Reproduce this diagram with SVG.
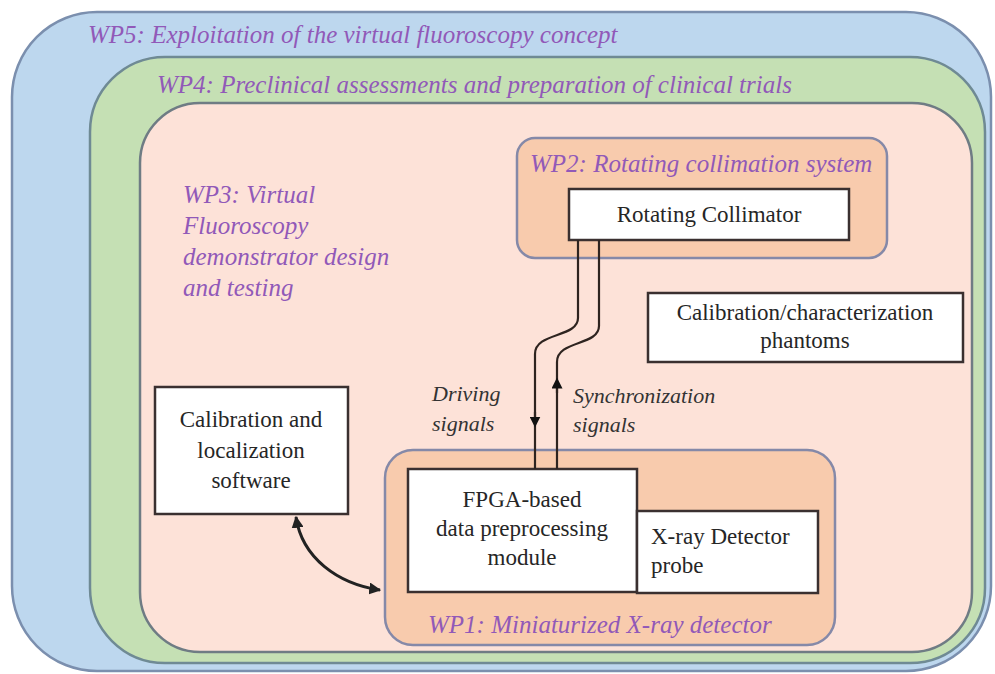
<svg xmlns="http://www.w3.org/2000/svg" width="995" height="674" viewBox="0 0 995 674">
<defs>
<style>
text{font-family:'Liberation Serif','DejaVu Serif',serif}
.wp{font-style:italic;font-size:25px;fill:#9159b8}
.nt{font-size:23px;fill:#262626}
.lb{font-style:italic;font-size:22px;fill:#333}
.box{fill:#ffffff;stroke:#3a3030;stroke-width:2.5}
.sub{fill:#f8cbad;stroke:#8589a8;stroke-width:2.5}
.wire{fill:none;stroke:#2e2420;stroke-width:2.2}
</style>
<marker id="ah" viewBox="0 0 10 10" refX="9" refY="5" markerWidth="4" markerHeight="4" orient="auto-start-reverse">
<path d="M0,0 L10,5 L0,10 z" fill="#222"/>
</marker>
<marker id="sm" viewBox="0 0 10 10" refX="5" refY="5" markerWidth="5" markerHeight="5" orient="auto">
<path d="M0,0 L10,5 L0,10 z" fill="#111"/>
</marker>
</defs>
<rect width="995" height="674" fill="#ffffff"/>
<g id="wp5">
<rect x="12" y="12" width="979" height="659" rx="85" fill="#bdd7ee" stroke="#7b8fae" stroke-width="2.5"/>
<text class="wp" x="88" y="43">WP5: Exploitation of the virtual fluoroscopy concept</text>
</g>
<g id="wp4">
<rect x="90" y="57" width="895" height="606" rx="75" fill="#c5e0b4" stroke="#6f8a94" stroke-width="2.5"/>
<text class="wp" x="157" y="93">WP4: Preclinical assessments and preparation of clinical trials</text>
</g>
<g id="wp3">
<rect x="140" y="103" width="832" height="549" rx="60" fill="#fde2d8" stroke="#6f7c84" stroke-width="2.5"/>
<text class="wp" x="183" y="203">WP3: Virtual</text>
<text class="wp" x="183" y="234">Fluoroscopy</text>
<text class="wp" x="183" y="265">demonstrator design</text>
<text class="wp" x="183" y="296">and testing</text>
</g>
<g id="wp2">
<rect class="sub" x="517" y="138" width="370" height="120" rx="18"/>
<text class="wp" x="530" y="172">WP2: Rotating collimation system</text>
</g>
<g id="collimator">
<rect class="box" x="569" y="189" width="280" height="51"/>
<text class="nt" x="709" y="222" text-anchor="middle">Rotating Collimator</text>
</g>
<g id="phantoms">
<rect class="box" x="648" y="293" width="315" height="69"/>
<text class="nt" x="805" y="320" text-anchor="middle">Calibration/characterization</text>
<text class="nt" x="805" y="348" text-anchor="middle">phantoms</text>
</g>
<g id="software">
<rect class="box" x="155" y="387" width="193" height="127"/>
<text class="nt" x="251" y="427" text-anchor="middle">Calibration and</text>
<text class="nt" x="251" y="458" text-anchor="middle">localization</text>
<text class="nt" x="251" y="488" text-anchor="middle">software</text>
</g>
<g id="wp1">
<rect class="sub" x="385" y="450" width="450" height="195" rx="28"/>
<text class="wp" x="428" y="633">WP1: Miniaturized X-ray detector</text>
</g>
<g id="fpga">
<rect class="box" x="408" y="469" width="229" height="123"/>
<text class="nt" x="522" y="507" text-anchor="middle">FPGA-based</text>
<text class="nt" x="522" y="536" text-anchor="middle">data preprocessing</text>
<text class="nt" x="522" y="565" text-anchor="middle">module</text>
</g>
<g id="detector">
<rect class="box" x="637" y="511" width="181" height="82"/>
<text class="nt" x="651" y="544">X-ray Detector</text>
<text class="nt" x="651" y="573">probe</text>
</g>
<g id="connectors">
<path class="wire" d="M578,240 L578,318 C578,338 535,332 535,354 L535,469"/>
<path class="wire" d="M599,240 L599,326 C599,346 557,340 557,362 L557,469"/>
<path class="wire" d="M535,412 L535,422" marker-end="url(#sm)"/>
<path class="wire" d="M557,393 L557,383" marker-end="url(#sm)"/>
<path d="M296,517 C302,558 338,584 380,590" fill="none" stroke="#222" stroke-width="3" marker-start="url(#ah)" marker-end="url(#ah)"/>
<text class="lb" x="432" y="401">Driving</text>
<text class="lb" x="432" y="431">signals</text>
<text class="lb" x="573" y="403">Synchronization</text>
<text class="lb" x="573" y="432">signals</text>
</g>
</svg>
